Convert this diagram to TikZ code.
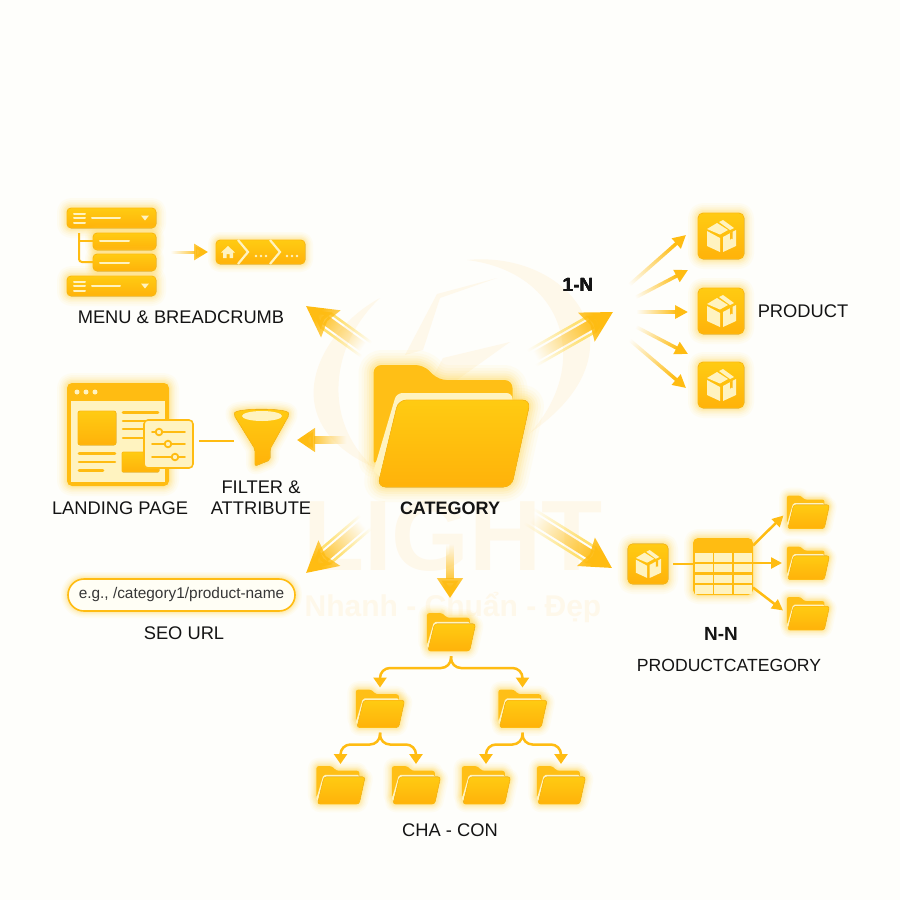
\documentclass[tikz,border=0pt]{standalone}
\usepackage{fontspec}
\setmainfont{Liberation Sans}
\usetikzlibrary{arrows.meta, positioning, calc, fadings}
\definecolor{gold}{HTML}{FFBC12}
\definecolor{goldtop}{HTML}{FFCB12}
\definecolor{goldlow}{HTML}{FFB20A}
\definecolor{goldback}{HTML}{FFBF16}
\definecolor{pale}{HTML}{FFF3C0}
\definecolor{halo}{HTML}{FFD84A}
\definecolor{inkc}{HTML}{141414}
\definecolor{wmark}{HTML}{FEF8EA}
\definecolor{paper}{HTML}{FEFEFB}
\tikzfading[name=tailfade, left color=transparent!100, middle color=transparent!30, right color=transparent!0]
\tikzset{
  glow/.style={preaction={draw=halo, line width=#1, opacity=.05, line join=round},
    preaction={draw=halo, line width=#1*.8, opacity=.06, line join=round},
    preaction={draw=halo, line width=#1*.62, opacity=.08, line join=round},
    preaction={draw=halo, line width=#1*.45, opacity=.1, line join=round},
    preaction={draw=halo, line width=#1*.3, opacity=.13, line join=round},
    preaction={draw=halo, line width=#1*.15, opacity=.16, line join=round}},
  goldfill/.style={top color=goldtop, bottom color=goldlow, draw=none, postaction={draw=gold, line width=.7pt}},
  iconbox/.style={inner sep=0pt, outer sep=0pt},
  lbl/.style={font=\fontsize{18.3}{21}\selectfont, text=inkc, align=center, inner sep=0pt},
  lblb/.style={font=\fontsize{18}{21}\selectfont\bfseries, text=inkc, align=center, inner sep=0pt},
  treearrow/.style={draw=gold, line width=2.5pt, rounded corners=10pt, -{Triangle[width=13pt,length=10pt]}, shorten <=5pt, shorten >=2pt},
  thinarrow/.style={draw=gold, line width=2.5pt, -{Triangle[width=11pt,length=11pt]}},
  plainline/.style={draw=gold, line width=2.5pt},
  paleline/.style={draw=pale, line width=2pt, line cap=round},
  folder/.pic={
    \begin{scope}[scale=#1]
      \path[glow=30*sqrt(#1), rounded corners=8*#1] (-78,41) -- (-78,-61) -- (-28,-61) -- (-13,-46) -- (61,-46) -- (61,-15) -- (-50,-15) -- cycle;
      \path[glow=30*sqrt(#1), rounded corners=8*#1] (-53,-26) -- (79,-26) -- (60,61) -- (-74,61) -- cycle;
      \fill[goldback, rounded corners=8*#1] (-78,41) -- (-78,-61) -- (-28,-61) -- (-13,-46) -- (61,-46) -- (61,-15) -- (-50,-15) -- cycle;
      \fill[pale] (-78,45) -- (-57,-26) [rounded corners=6*#1] -- (-55,-33) -- (61,-33) [sharp corners] -- (61,-20) -- (-50,-20) -- (-70,52) -- cycle;
      \fill[goldfill, rounded corners=8*#1] (-53,-26) -- (79,-26) -- (60,61) -- (-74,61) -- cycle;
    \end{scope}
  },
  cartonbox/.pic={
    \begin{scope}[scale=#1]
      \fill[goldfill, glow=20, rounded corners=5*#1] (-23,-23) rectangle (23,23);
      \fill[pale] (-14,-5) -- (-1,2) -- (-1,16) -- (-14,10) -- cycle;
      \fill[pale] (2,1) -- (15,-6) -- (15,10) -- (2,16) -- cycle;
      \fill[pale] (-14,-7) -- (-4,-13) -- (7,-6) -- (-1,-1.5) -- cycle;
      \fill[pale] (-2,-14) -- (2,-16) -- (13,-8) -- (9,-6) -- cycle;
      \fill[gold] (9,-3) -- (11.5,-4.5) -- (11.5,3) -- (10,2.5) -- (9,4) -- cycle;
    \end{scope}
  },
}
% arrow whose tail fades out
\newcommand{\fadearrow}[3][]{%
  \pgfmathanglebetweenpoints{\pgfpointanchor{#2}{center}}{\pgfpointanchor{#3}{center}}\let\fadeang\pgfmathresult
  \path let \p1=($(#3)-(#2)$) in \pgfextra{\pgfmathsetmacro\fadelen{veclen(\x1,\y1)/75}\global\let\fadescale\fadelen};
  \draw[fit fading=false, path fading=tailfade, fading transform={shift={($(#2)!.5!(#3)$)},rotate=\fadeang,xscale=\fadescale}, #1] (#2) -- (#3);%
}
% wide arrow with two side rails
\newcommand{\beam}[2]{%
  \coordinate (railend) at ($(#2)!25pt!(#1)$);
  \coordinate (raila) at ($(#1)!8.5pt!90:(#2)$);
  \coordinate (railb) at ($(railend)!8.5pt!-90:(#1)$);
  \coordinate (railc) at ($(#1)!8.5pt!-90:(#2)$);
  \coordinate (raild) at ($(railend)!8.5pt!90:(#1)$);
  \fadearrow[draw=goldtop!60, line width=2.6pt]{raila}{railb}
  \fadearrow[draw=goldtop!60, line width=2.6pt]{railc}{raild}
  \fadearrow[draw=gold, line width=10pt, -{Stealth[width=32pt,length=30pt,inset=4pt]}]{#1}{#2}
}
\begin{document}
\begin{tikzpicture}[x=1pt, y=-1pt]
  \fill[paper] (0,0) rectangle (900,900);
  \useasboundingbox (0,0) rectangle (900,900);
  % watermark
  \fill[wmark] (380,298) .. controls (320,330) and (270,420) .. (373,467) .. controls (322,420) and (330,345) .. (380,298) -- cycle;
  \fill[wmark] (467,260) .. controls (570,250) and (650,350) .. (530,433) .. controls (592,365) and (565,272) .. (467,260) -- cycle;
  \fill[wmark] (497,278) -- (437,294) -- (405,355) -- (423,350) -- (440,298) -- cycle;
  \fill[wmark] (510,342) -- (443,358) -- (410,420) -- (450,385) -- cycle;
  \node[font=\fontsize{100}{100}\selectfont\bfseries, text=wmark, inner sep=0pt] (wmtitle) at (453,536) {LIGHT};
  \node[font=\fontsize{30}{30}\selectfont\bfseries, text=wmark, inner sep=0pt] (wmsub) at (453,607) {Nhanh - Chuẩn - Đẹp};
  % centre
  \node[iconbox, minimum width=157pt, minimum height=122pt] (fcat) at (451.5,426) {};
  \pic at (fcat) {folder=1};
  \node[lblb] (lcat) at (450,508) {CATEGORY};
  % beams
  \coordinate (tne) at (613,312); \coordinate (bne) at (520,365);
  \coordinate (tnw) at (306,306); \coordinate (bnw) at (374,355);
  \coordinate (tsw) at (306,573); \coordinate (bsw) at (374,515);
  \coordinate (tse) at (612,568); \coordinate (bse) at (516,508);
  \coordinate (tw) at (297,440); \coordinate (bw) at (356,440);
  \coordinate (ts) at (450,598); \coordinate (bs) at (450,533);
  \beam{bne}{tne}
  \beam{bnw}{tnw}
  \beam{bsw}{tsw}
  \beam{bse}{tse}
  \fadearrow[draw=gold, line width=8pt, -{Triangle[width=23pt,length=18pt]}]{bw}{tw}
  \fadearrow[draw=gold, line width=8pt, -{Triangle[width=25pt,length=20pt]}]{bs}{ts}
  % menu
  \node[iconbox, minimum width=89pt, minimum height=88pt] (menu) at (111.5,252) {};
  \node[iconbox, minimum width=89pt, minimum height=24pt] (crumb) at (260.5,252) {};
  \fill[goldfill, glow=20, rounded corners=4pt] (67,208) rectangle (156,228);
  \fill[goldfill, glow=20, rounded corners=4pt] (67,276) rectangle (156,296);
  \fill[goldfill, glow=16, rounded corners=4pt] (93,233) rectangle (156,250);
  \fill[goldfill, glow=16, rounded corners=4pt] (93,254) rectangle (156,271);
  \draw[draw=gold, line width=2pt, rounded corners=3pt] (79,233) -- (79,262) -- (93,262);
  \draw[draw=gold, line width=2pt] (79,241) -- (93,241);
  \foreach \y in {218,286}{
    \foreach \d in {-4.5,0,4.5} \draw[paleline] (74,\y+\d) -- (85,\y+\d);
    \draw[paleline] (92,\y) -- (120,\y);
    \fill[pale] (141,\y-2.5) -- (149,\y-2.5) -- (145,\y+2.5) -- cycle;
  }
  \draw[paleline] (100,241) -- (129,241);
  \draw[paleline] (100,262.5) -- (129,262.5);
  \fill[goldfill, glow=16, rounded corners=4pt] (216,240) rectangle (305,264);
  \draw[draw=pale, line width=2.2pt] (238,240) -- (248,252) -- (238,264);
  \draw[draw=pale, line width=2.2pt] (270,240) -- (280,252) -- (270,264);
  \fill[pale] (228,246) -- (235,252.5) -- (233,252.5) -- (233,258) -- (229.5,258) -- (229.5,254) -- (226.5,254) -- (226.5,258) -- (223,258) -- (223,252.5) -- (221,252.5) -- cycle;
  \foreach \x in {256,261,266,287,292,297} \fill[pale] (\x,256) circle (1.3);
  \coordinate (mout) at ($(menu.east)+(7,0)$);
  \coordinate (cin) at ($(crumb.west)+(-8,0)$);
  \fadearrow[draw=gold, line width=3pt, -{Triangle[width=16pt,length=14pt]}]{mout}{cin}
  \node[lbl] (lmenu) at (181,317) {MENU \& BREADCRUMB};
  % landing page
  \fill[gold, glow=20, rounded corners=5pt] (67,383) rectangle (169,486);
  \fill[pale] (71,401) rectangle (165,482);
  \foreach \x in {77,86,95} \fill[pale] (\x,392) circle (2.5);
  \fill[goldfill, rounded corners=2pt] (78,411) rectangle (116,445);
  \fill[goldfill, rounded corners=1pt] (122,452) rectangle (159,472);
  \foreach \y in {412.7,421,429,438} \draw[draw=gold, line width=2.6pt, line cap=round] (123,\y) -- (158,\y);
  \draw[draw=gold, line width=2.6pt, line cap=round] (79,453.5) -- (115,453.5);
  \draw[draw=gold, line width=2.6pt, line cap=round] (79,462) -- (115,462);
  \draw[draw=gold, line width=2.6pt, line cap=round] (79,470.5) -- (103,470.5);
  \node[iconbox, minimum width=49pt, minimum height=48pt, fill=pale, draw=gold, line width=1.6pt, rounded corners=4pt] (lpanel) at (168.5,444) {};
  \foreach \y/\k in {432/159,444/168,457/175}{
    \draw[draw=gold, line width=1.8pt, line cap=round] (152,\y) -- (185,\y);
    \filldraw[fill=pale, draw=gold, line width=1.8pt] (\k,\y) circle (3.3);
  }
  \node[lbl] (llanding) at (120,508) {LANDING PAGE};
  % funnel
  \node[iconbox, minimum width=55pt, minimum height=50pt] (funnel) at (261.5,441) {};
  \fill[goldfill, glow=18, rounded corners=2pt] (234,415) .. controls (236,408) and (287,408) .. (289,415) -- (270,449) -- (270,460) -- (255,466) -- (255,449) -- cycle;
  \fill[pale] (262,416) ellipse (20 and 5);
  \draw[plainline] (funnel.west -| lpanel.east) ++(6,0) -- (funnel.west);
  \node[lbl] (lfilter) at (261,498) {FILTER \&\\ATTRIBUTE};
  % seo
  \node[iconbox, minimum width=227pt, minimum height=32pt, fill=white!96!yellow, draw=gold, line width=1.6pt, rounded corners=16pt, glow=14, font=\fontsize{15.4}{17}\selectfont, text=inkc!85] (pill) at (181.5,595) {e.g., /category1/product-name};
  \node[lbl] (lseo) at (184,633) {SEO URL};
  % product fan
  \foreach \n/\y in {pa/236,pb/311,pc/385}{
    \node[iconbox, minimum size=46pt] (\n) at (721,\y) {};
    \pic at (\n) {cartonbox=1};
  }
  \coordinate (s1) at (618,295); \coordinate (e1) at (686,235);
  \coordinate (s2) at (625,303); \coordinate (e2) at (688,270);
  \coordinate (s3) at (626,312); \coordinate (e3) at (688,312);
  \coordinate (s4) at (625,321); \coordinate (e4) at (688,354);
  \coordinate (s5) at (618,330); \coordinate (e5) at (686,388);
  \foreach \i in {1,...,5}
    \fadearrow[thinarrow, line width=3.5pt, -{Triangle[width=13pt,length=13pt]}]{s\i}{e\i}
  \node[lblb, font=\fontsize{19}{21}\selectfont\bfseries] (lone) at (578,285) {1-N};
  \node[lbl] (lprod) at (803,311) {PRODUCT};
  % many to many
  \node[iconbox, minimum size=40pt] (pd) at (648,564) {};
  \pic at (pd) {cartonbox=.87};
  \node[iconbox, minimum width=60pt, minimum height=57pt] (tbl) at (723,566.5) {};
  \fill[gold, glow=18, rounded corners=5pt] (693,538) rectangle (753,595);
  \foreach \x in {695,714,734}
    \foreach \y in {553,563.5,574.5,585}
      \fill[pale] (\x,\y) rectangle (\x+17.5,\y+8.5);
  \draw[plainline] (pd.east) ++(5,0) -- (tbl.west |- pd.east);
  \foreach \n/\y in {fa/512,fb/563,fc/613.5}{
    \node[iconbox, minimum width=42pt, minimum height=34pt] (\n) at (808,\y) {};
    \pic at (\n) {folder=.27};
  }
  \draw[thinarrow, shorten >=5pt] (tbl.35) -- (fa.west);
  \draw[thinarrow, shorten >=5pt] (tbl.east |- fb) -- (fb.west);
  \draw[thinarrow, shorten >=5pt] (tbl.-35) -- (fc.west);
  \node[lblb, font=\fontsize{19}{21}\selectfont\bfseries] (lnn) at (721,634) {N-N};
  \node[lbl, font=\fontsize{17.6}{21}\selectfont] (lpc) at (729,665) {PRODUCTCATEGORY};
  % tree
  \foreach \n/\x/\y/\s in {froot/451/632/.31,fl/380/708.5/.31,fr/522.5/708.5/.31,fll/340.5/785/.31,flr/416/785/.31,frl/486/785/.31,frr/561/785/.31}{
    \node[iconbox, minimum width=49pt, minimum height=38pt] (\n) at (\x,\y) {};
    \pic at (\n) {folder=\s};
  }
  \draw[treearrow] (froot.south) -- ++(0,17) -| (fl.north);
  \draw[treearrow] (froot.south) -- ++(0,17) -| (fr.north);
  \draw[treearrow] (fl.south) -- ++(0,17) -| (fll.north);
  \draw[treearrow] (fl.south) -- ++(0,17) -| (flr.north);
  \draw[treearrow] (fr.south) -- ++(0,17) -| (frl.north);
  \draw[treearrow] (fr.south) -- ++(0,17) -| (frr.north);
  \node[lbl] (lcon) at (450,830) {CHA - CON};
\end{tikzpicture}
\end{document}
